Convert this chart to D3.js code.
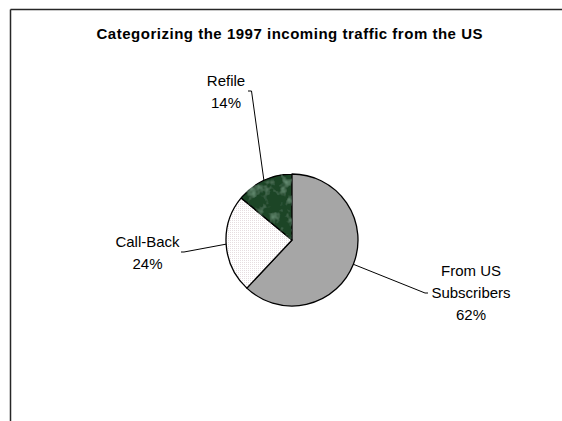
<!DOCTYPE html>
<html>
<head>
<meta charset="utf-8">
<script src="https://cdn.jsdelivr.net/npm/d3@7"></script>
<style>
  html, body { margin: 0; padding: 0; background: #fff; }
  svg { display: block; }
  text { font-family: "Liberation Sans", Arial, sans-serif; fill: #000; }
</style>
</head>
<body>
<div id="chart"></div>
<script>
// Chart data
const title = "Categorizing the 1997 incoming traffic from the US";
const categories = ["From US Subscribers", "Call-Back", "Refile"];
const labelLines = [["From US", "Subscribers"], ["Call-Back"], ["Refile"]];
const values = [62, 24, 14];

const W = 562, H = 421;
const cx = 292, cy = 240, radius = 66;

// Label placement: text centre, first baseline, and the elbow of each leader line
const labelLayout = [
  { x: 471, y: 276, elbow: [425, 293], tick: [428, 293] },
  { x: 147.5, y: 247, elbow: [184, 252], tick: [181, 252] },
  { x: 226, y: 86, elbow: [251.5, 91], tick: [248, 91] }
];
const lineGap = 22;

const svg = d3.select("#chart").append("svg")
  .attr("width", W).attr("height", H);

const defs = svg.append("defs");

// fine stipple for the Call-Back slice
const dots = defs.append("pattern")
  .attr("id", "stipple").attr("patternUnits", "userSpaceOnUse")
  .attr("width", 2).attr("height", 2);
dots.append("rect").attr("width", 2).attr("height", 2).attr("fill", "#ffffff");
dots.append("rect").attr("width", 1).attr("height", 1).attr("fill", "#e6dde0");

// mottled green texture for the Refile slice
const marble = defs.append("filter").attr("id", "marble")
  .attr("x", 0).attr("y", 0).attr("width", 1).attr("height", 1);
marble.append("feTurbulence")
  .attr("type", "fractalNoise").attr("baseFrequency", 0.09)
  .attr("numOctaves", 3).attr("seed", 5).attr("result", "noise");
marble.append("feColorMatrix").attr("in", "noise").attr("type", "matrix")
  .attr("values", "0 0 0 0 0.22  0 0 0 0 0.42  0 0 0 0 0.28  0 0 0 1.6 -0.8")
  .attr("result", "spots");
marble.append("feComposite").attr("in", "spots").attr("in2", "SourceGraphic")
  .attr("operator", "atop");

const fills = ["#a6a6a6", "url(#stipple)", "#1b4526"];

// frame: top and left edges
svg.append("line").attr("x1", 10.5).attr("y1", 9.5).attr("x2", W).attr("y2", 9.5)
  .attr("stroke", "#262626").attr("stroke-width", 1.5);
svg.append("line").attr("x1", 10.5).attr("y1", 9.5).attr("x2", 10.5).attr("y2", H)
  .attr("stroke", "#262626").attr("stroke-width", 1.5);

// title
svg.append("text")
  .attr("x", 289.5).attr("y", 39)
  .attr("text-anchor", "middle")
  .attr("font-weight", "bold").attr("font-size", 15)
  .attr("textLength", 386).attr("lengthAdjust", "spacing")
  .text(title);

const pie = d3.pie().sort(null).value(d => d)(values);
const arc = d3.arc().innerRadius(0).outerRadius(radius);

const g = svg.append("g").attr("transform", `translate(${cx},${cy})`);

g.selectAll("path.slice")
  .data(pie)
  .join("path")
  .attr("class", "slice")
  .attr("d", arc)
  .attr("fill", (d, i) => fills[i])
  .attr("filter", (d, i) => i === 2 ? "url(#marble)" : null)
  .attr("stroke", "#000")
  .attr("stroke-width", 1.3)
  .attr("stroke-linejoin", "round");

// leader lines from each slice rim to its label
const rim = d3.arc().innerRadius(radius).outerRadius(radius);
pie.forEach((d, i) => {
  const [rx, ry] = rim.centroid(d);
  const L = labelLayout[i];
  svg.append("polyline")
    .attr("points", [[cx + rx, cy + ry], L.elbow, L.tick].map(p => p.join(",")).join(" "))
    .attr("fill", "none").attr("stroke", "#000").attr("stroke-width", 1);
});

// slice labels: name lines then percentage
pie.forEach((d, i) => {
  const L = labelLayout[i];
  const lines = labelLines[i].concat([d3.format(".0f")(values[i]) + "%"]);
  const t = svg.append("text")
    .attr("text-anchor", "middle").attr("font-size", 15);
  lines.forEach((s, k) => {
    t.append("tspan").attr("x", L.x).attr("y", L.y + k * lineGap).text(s);
  });
});
</script>
</body>
</html>
